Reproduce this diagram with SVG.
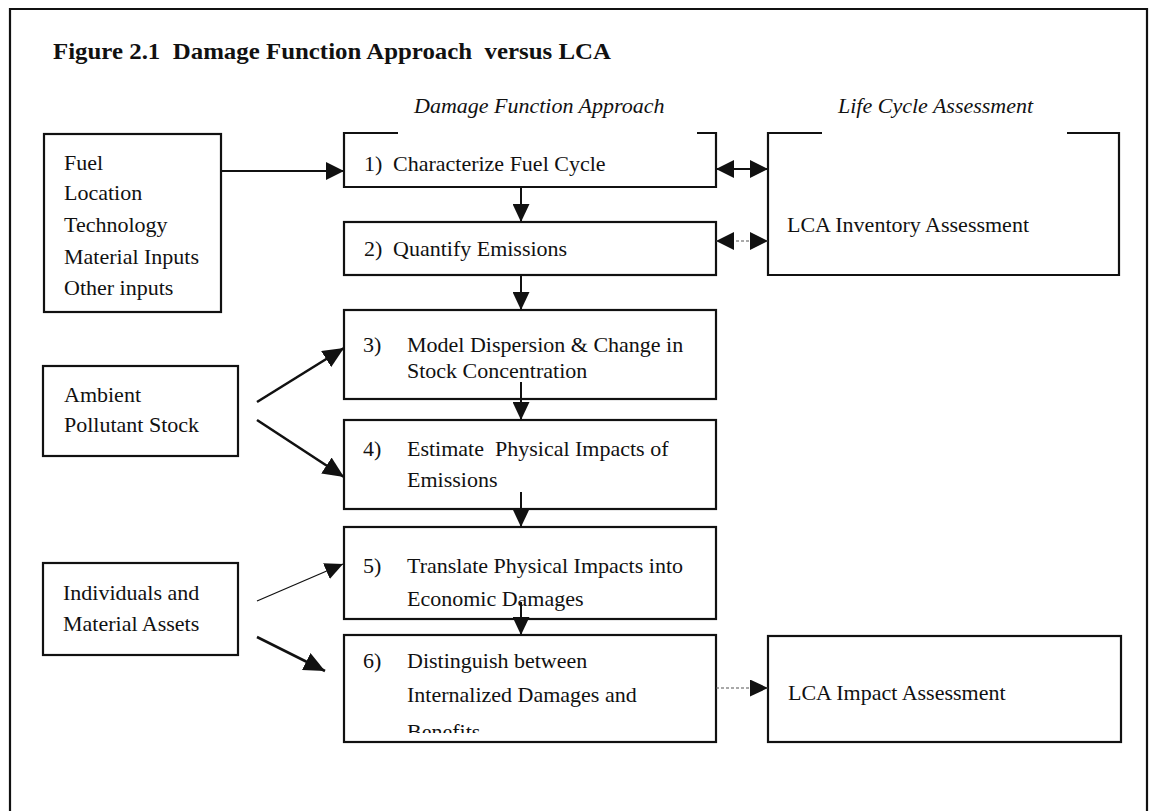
<svg xmlns="http://www.w3.org/2000/svg" width="1150" height="811" viewBox="0 0 1150 811">
<style>
  text { font-family: "Liberation Serif", "Times New Roman", serif; font-size: 22px; fill: #111; }
  .title { font-weight: bold; font-size: 24px; }
  .it { font-style: italic; }
  .box { fill: none; stroke: #111; stroke-width: 2.2; }
  .line { fill: none; stroke: #111; stroke-width: 2; }
  .thick { fill: none; stroke: #111; stroke-width: 2.6; }
  .thin { fill: none; stroke: #111; stroke-width: 1.3; }
  .dash { fill: none; stroke: #555; stroke-width: 1.1; stroke-dasharray: 3 2; }
</style>
<defs>
  <marker id="ah" markerUnits="userSpaceOnUse" markerWidth="18" markerHeight="18" refX="18" refY="9" orient="auto-start-reverse" viewBox="0 0 18 18">
    <path d="M0,0 L18,9 L0,18 z" fill="#111"/>
  </marker>
  <marker id="ahL" markerUnits="userSpaceOnUse" markerWidth="21" markerHeight="19" refX="21" refY="9.5" orient="auto" viewBox="0 0 21 19">
    <path d="M0,0 L21,9.5 L0,19 z" fill="#111"/>
  </marker>
  <marker id="ahS" markerUnits="userSpaceOnUse" markerWidth="18" markerHeight="17" refX="18" refY="8.5" orient="auto" viewBox="0 0 18 17">
    <path d="M0,0 L18,8.5 L0,17 z" fill="#111"/>
  </marker>
  <clipPath id="clip6"><rect x="344" y="600" width="372" height="133"/></clipPath>
</defs>
<rect width="1150" height="811" fill="#fff"/>

<!-- outer frame -->
<path d="M10,811 V9 H1147 V811" class="box"/>

<text class="title" x="53" y="59" textLength="558" lengthAdjust="spacingAndGlyphs" xml:space="preserve">Figure 2.1  Damage Function Approach  versus LCA</text>
<text class="it" x="414" y="113">Damage Function Approach</text>
<text class="it" x="838" y="113">Life Cycle Assessment</text>

<g id="inputs">
  <rect class="box" x="44" y="134" width="177" height="178"/>
  <text x="64" y="170">Fuel</text>
  <text x="64" y="200">Location</text>
  <text x="64" y="232">Technology</text>
  <text x="64" y="264">Material Inputs</text>
  <text x="64" y="295">Other inputs</text>
</g>

<g id="ambient">
  <rect class="box" x="43" y="366" width="195" height="90"/>
  <text x="64" y="402">Ambient</text>
  <text x="64" y="432">Pollutant Stock</text>
</g>

<g id="individuals">
  <rect class="box" x="43" y="563" width="195" height="92"/>
  <text x="63" y="600">Individuals and</text>
  <text x="63" y="631">Material Assets</text>
</g>

<g id="step1">
  <path class="box" d="M398,133 H344 V187 H716 V133 H697"/>
  <text x="364" y="171">1)</text>
  <text x="393" y="171">Characterize Fuel Cycle</text>
</g>

<g id="step2">
  <rect class="box" x="344" y="222" width="372" height="53"/>
  <text x="364" y="256">2)</text>
  <text x="393" y="256">Quantify Emissions</text>
</g>

<g id="step3">
  <rect class="box" x="344" y="310" width="372" height="89"/>
  <text x="363" y="352">3)</text>
  <text x="407" y="352">Model Dispersion &amp; Change in</text>
  <text x="407" y="378">Stock Concentration</text>
</g>

<g id="step4">
  <rect class="box" x="344" y="420" width="372" height="89"/>
  <text x="363" y="456">4)</text>
  <text x="407" y="456" xml:space="preserve">Estimate  Physical Impacts of</text>
  <text x="407" y="487">Emissions</text>
</g>

<g id="step5">
  <rect class="box" x="344" y="527" width="372" height="92"/>
  <text x="363" y="573">5)</text>
  <text x="407" y="573">Translate Physical Impacts into</text>
  <text x="407" y="606">Economic Damages</text>
</g>

<g id="step6">
  <rect class="box" x="344" y="635" width="372" height="107"/>
  <text x="363" y="668">6)</text>
  <text x="407" y="668">Distinguish between</text>
  <text x="407" y="702">Internalized Damages and</text>
  <text x="407" y="739" clip-path="url(#clip6)">Benefits</text>
</g>

<g id="lca-inventory">
  <path class="box" d="M822,133 H768 V275 H1119 V133 H1067"/>
  <text x="787" y="232">LCA Inventory Assessment</text>
</g>

<g id="lca-impact">
  <rect class="box" x="768" y="636" width="353" height="106"/>
  <text x="788" y="700">LCA Impact Assessment</text>
</g>

<g id="connectors">
  <line class="line" x1="221" y1="171" x2="344" y2="171" marker-end="url(#ah)"/>
  <line class="line" x1="521" y1="187" x2="521" y2="222" marker-end="url(#ahS)"/>
  <line class="line" x1="521" y1="275" x2="521" y2="310" marker-end="url(#ahS)"/>
  <line class="line" x1="521" y1="382" x2="521" y2="420" marker-end="url(#ahS)"/>
  <line class="line" x1="521" y1="492" x2="521" y2="527" marker-end="url(#ahS)"/>
  <line class="line" x1="521" y1="602" x2="521" y2="635" marker-end="url(#ahS)"/>
  <line class="line" x1="716" y1="169" x2="768" y2="169" marker-start="url(#ah)" marker-end="url(#ah)"/>
  <line class="dash" x1="716" y1="241" x2="768" y2="241" marker-start="url(#ah)" marker-end="url(#ah)"/>
  <line class="thick" x1="257" y1="402" x2="344" y2="348" marker-end="url(#ahL)"/>
  <line class="thick" x1="257" y1="420" x2="344" y2="477" marker-end="url(#ahL)"/>
  <line class="thin" x1="257" y1="601" x2="343" y2="564" marker-end="url(#ahS)"/>
  <line class="thick" x1="257" y1="637" x2="325" y2="671" marker-end="url(#ahL)"/>
  <line class="dash" x1="716" y1="688" x2="768" y2="688" marker-end="url(#ahS)"/>
</g>
</svg>
